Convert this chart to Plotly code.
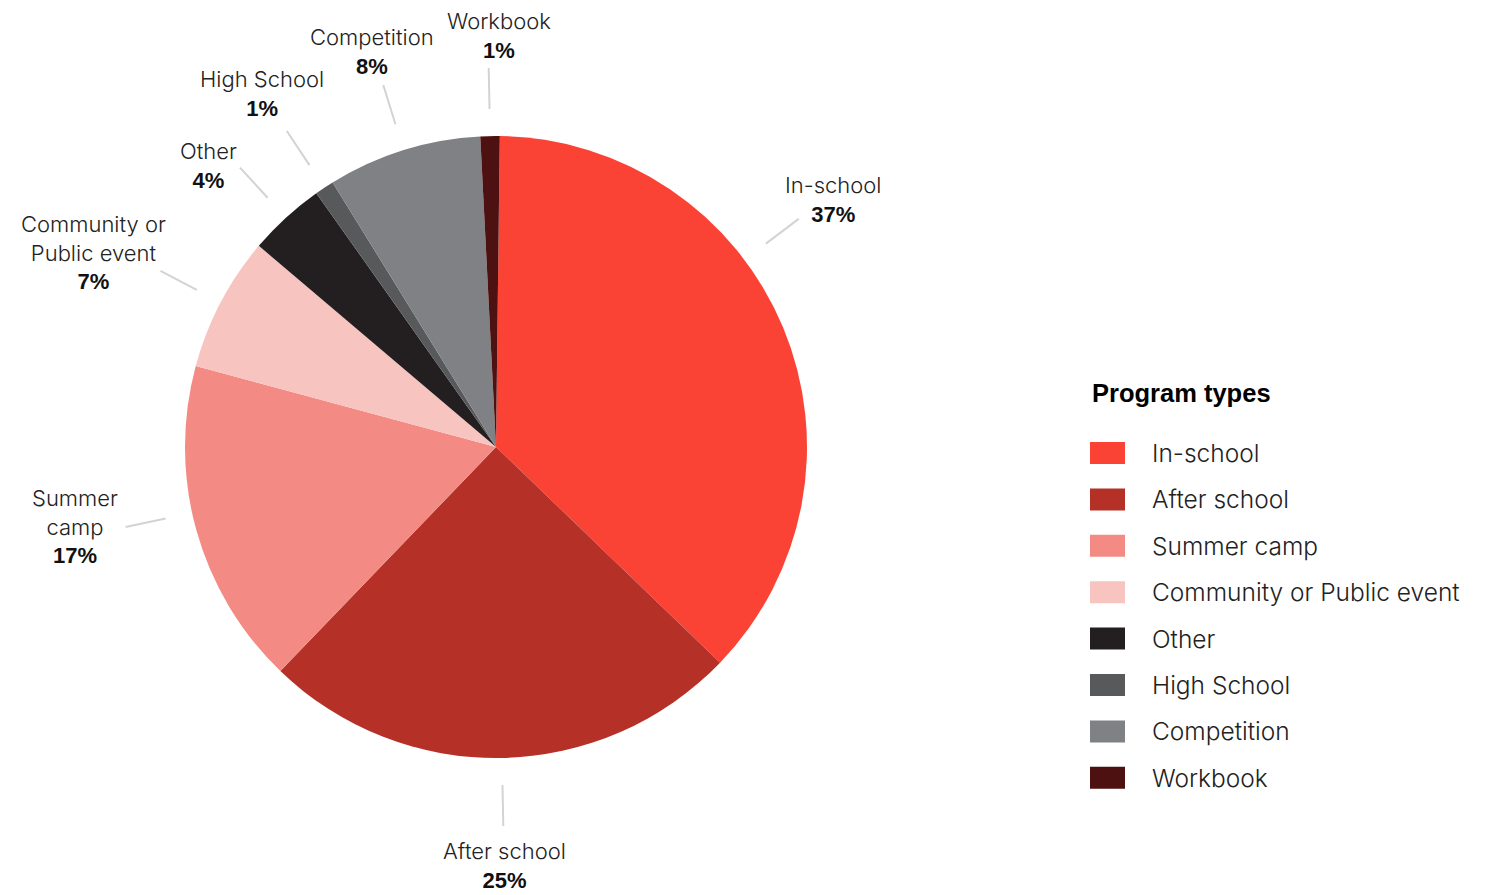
import math
import plotly.graph_objects as go

# ---- data ----
categories = ["In-school", "After school", "Summer camp", "Community or Public event",
              "Other", "High School", "Competition", "Workbook"]
slice_labels = ["In-school", "After school", "Summer<br>camp", "Community or<br>Public event",
                "Other", "High School", "Competition", "Workbook"]
values = [37, 25, 17, 7, 4, 1, 8, 1]
colors = ["#FB4335", "#B53027", "#F38B84", "#F8C4C0", "#231F20", "#58595B", "#808184", "#4E1111"]
legend_title = "Program types"

# ---- layout constants (pixels in the page) ----
W, H = 1503, 895
OFF = 8  # page body margin
CX, CY, R = 496, 447, 311
ROT = 0.7
LABEL_FONT = "Inter"
LABEL_SIZE = 22
PCT_STYLE = "font-family:'Liberation Sans';font-weight:bold;font-size:22px;color:#111"
LINE_COLOR = "#D3D3D3"
GAP = 9
# leader-line angle overrides and label nudges (label placement tweaks)
angle_override = {"In-school": 53.0, "Summer camp": 257.8}
label_nudge = {"In-school": (-8, 13), "Other": (-1, 32), "Community or Public event": (7, 21),
               "Summer camp": (-9, -10), "Workbook": (11, 3), "After school": (1, 4),
               "High School": (-2, -3), "Competition": (0, 2)}


def px(x):
    return (x - OFF) / W


def py(y):
    return 1 - (y - OFF) / H


fig = go.Figure(go.Pie(
    labels=categories, values=values, sort=False, direction="clockwise",
    rotation=ROT, marker=dict(colors=colors, line=dict(width=0)),
    textinfo="none", hoverinfo="label+percent", showlegend=False,
    domain=dict(x=[px(CX - R), px(CX + R)], y=[py(CY + R), py(CY - R)]),
))

shapes = []
annotations = []
total = sum(values)
cum = 0
for cat, lab, v in zip(categories, slice_labels, values):
    mid = ROT + 360 * (cum + v / 2) / total
    cum += v
    ang = angle_override.get(cat, mid)
    a = math.radians(ang)
    sx, cy = math.sin(a), -math.cos(a)
    r1, r2 = R + 27, R + 68
    shapes.append(dict(type="line", xref="paper", yref="paper",
                       x0=px(CX + r1 * sx), y0=py(CY + r1 * cy),
                       x1=px(CX + r2 * sx), y1=py(CY + r2 * cy),
                       line=dict(color=LINE_COLOR, width=2)))
    lines = lab.split("<br>")
    w = max(len(s) for s in lines) * LABEL_SIZE * 0.5
    h = (len(lines) + 1) * 27
    tx = (w / 2) / abs(sx) if abs(sx) > 1e-6 else 1e9
    ty = (h / 2) / abs(cy) if abs(cy) > 1e-6 else 1e9
    d = r2 + GAP + min(tx, ty)
    nx, ny = label_nudge.get(cat, (0, 0))
    pct = round(v / total * 100)
    annotations.append(dict(
        x=px(CX + d * sx + nx), y=py(CY + d * cy + ny), xref="paper", yref="paper",
        xanchor="center", yanchor="middle", showarrow=False, align="center",
        text=f"{lab}<br><span style=\"{PCT_STYLE}\">{pct}%</span>",
        font=dict(family=LABEL_FONT, size=LABEL_SIZE, color="#222", weight=300),
    ))

# ---- custom legend ----
LX, LTY, L0, LSTEP = 1090, 393, 453, 46.4
annotations.append(dict(x=px(LX), y=py(LTY), xref="paper", yref="paper",
                        xanchor="left", yanchor="middle", showarrow=False,
                        text=f"<b>{legend_title}</b>",
                        font=dict(family="Liberation Sans", size=25.5, color="#000")))
for i, (cat, col) in enumerate(zip(categories, colors)):
    yc = L0 + i * LSTEP
    shapes.append(dict(type="rect", xref="paper", yref="paper",
                       x0=px(LX), x1=px(LX + 35), y0=py(yc + 11), y1=py(yc - 11),
                       fillcolor=col, line=dict(width=0)))
    annotations.append(dict(x=px(LX + 60), y=py(yc), xref="paper", yref="paper",
                            xanchor="left", yanchor="middle", showarrow=False,
                            text=cat,
                            font=dict(family=LABEL_FONT, size=24.5, color="#222", weight=300)))

fig.update_layout(width=W, height=H, margin=dict(l=0, r=0, t=0, b=0),
                  paper_bgcolor="white", plot_bgcolor="white",
                  shapes=shapes, annotations=annotations)
fig.write_html("out.html")
